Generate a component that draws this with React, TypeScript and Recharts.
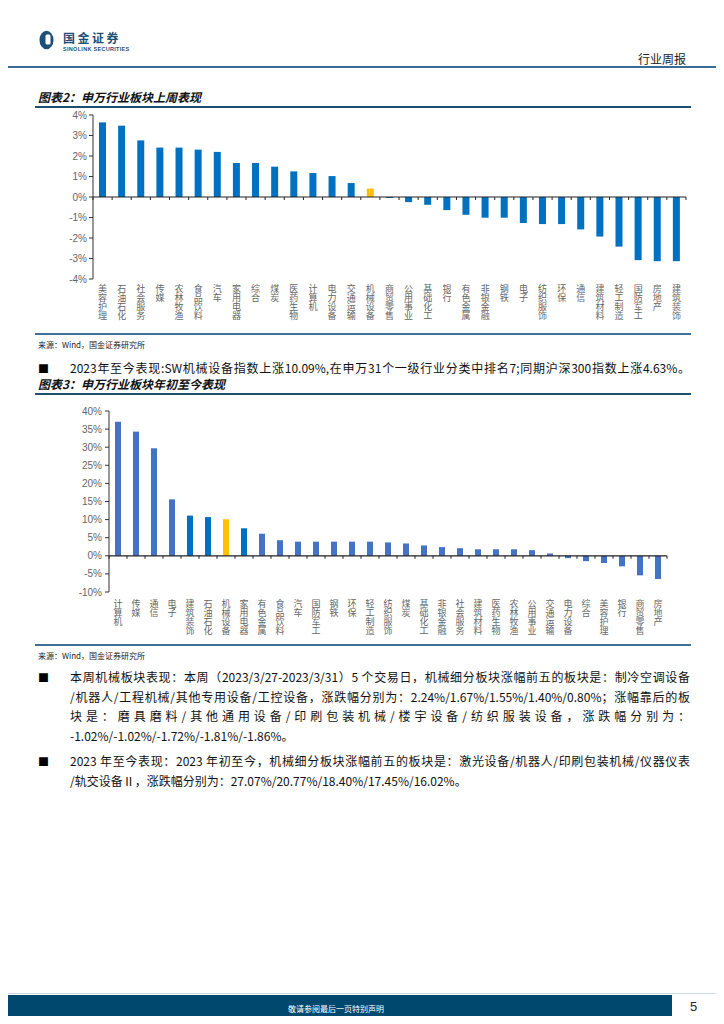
import React from "react";
import {BarChart, Bar, XAxis, YAxis, Cell, ReferenceLine} from "recharts";

// 图表2 上周表现 (%)
const weekNames = [
  "美容护理", "石油石化", "社会服务", "传媒", "农林牧渔", "食品饮料", "汽车", "家用电器",
  "综合", "煤炭", "医药生物", "计算机", "电力设备", "交通运输", "机械设备", "商贸零售",
  "公用事业", "基础化工", "银行", "有色金属", "非银金融", "钢铁", "电子", "纺织服饰",
  "环保", "通信", "建筑材料", "轻工制造", "国防军工", "房地产", "建筑装饰",
];
const weekValues = [
  3.64, 3.48, 2.76, 2.41, 2.41, 2.31, 2.2, 1.66,
  1.66, 1.48, 1.25, 1.17, 1.02, 0.68, 0.41, -0.05,
  -0.25, -0.38, -0.64, -0.87, -1.01, -1.01, -1.27, -1.32,
  -1.32, -1.58, -1.93, -2.42, -3.08, -3.13, -3.13,
];
const weekTicks = [-4, -3, -2, -1, 0, 1, 2, 3, 4];

// 图表3 年初至今表现 (%)
const ytdNames = [
  "计算机", "传媒", "通信", "电子", "建筑装饰", "石油石化", "机械设备", "家用电器",
  "有色金属", "食品饮料", "汽车", "国防军工", "钢铁", "环保", "轻工制造", "纺织服饰",
  "煤炭", "基础化工", "非银金融", "社会服务", "建筑材料", "医药生物", "农林牧渔", "公用事业",
  "交通运输", "电力设备", "综合", "美容护理", "银行", "商贸零售", "房地产",
];
const ytdValues = [
  37.0, 34.3, 29.7, 15.6, 11.1, 10.7, 10.09, 7.6,
  6.1, 4.3, 3.9, 3.9, 3.9, 3.9, 3.9, 3.7,
  3.4, 2.85, 2.4, 2.1, 1.8, 1.8, 1.8, 1.56,
  0.64, -0.64, -1.47, -2.0, -2.9, -5.4, -6.4,
];
const ytdTicks = [-10, -5, 0, 5, 10, 15, 20, 25, 30, 35, 40];
const ytdDarker = ["建筑装饰", "石油石化", "家用电器"];

const HIGHLIGHT = "机械设备";
const CJK = "'Noto Sans CJK SC', 'Noto Sans', sans-serif";
const AXIS_FONT = "'Liberation Sans', Arial, 'Noto Sans CJK SC', sans-serif";

const weekData = weekNames.map((name, i) => ({name, value: weekValues[i]}));
const ytdData = ytdNames.map((name, i) => ({name, value: ytdValues[i]}));

// category names stacked one character per line
function VerticalTick(props: any) {
  const {x, y, payload} = props;
  const chars = Array.from(String(payload.value));
  return (
    <text x={x} y={y} fill="#666" fontSize={9} textAnchor="middle" fontFamily={CJK}>
      {chars.map((c, i) => (
        <tspan key={i} x={x} dy={i === 0 ? 8.5 : 9.3}>
          {c}
        </tspan>
      ))}
    </text>
  );
}

// zero line with small marks at the category boundaries
function zeroLine(count: number) {
  return (props: any) => {
    const {x1, y1, x2} = props;
    const step = (x2 - x1) / count;
    const marks = [];
    for (let i = 0; i <= count; i++) {
      const x = x1 + step * i;
      marks.push(<line key={i} x1={x} x2={x} y1={y1} y2={y1 + 3} stroke="#222" strokeWidth={1} />);
    }
    return (
      <g>
        <line x1={x1} x2={x2} y1={y1} y2={y1} stroke="#222" strokeWidth={1.2} />
        {marks}
      </g>
    );
  };
}

function Title({top, text}: {top: number; text: string}) {
  return (
    <>
      <div
        style={{
          position: "absolute", left: 38, top, fontSize: 12, fontWeight: 700,
          fontStyle: "italic", color: "#111", lineHeight: "14px",
        }}
      >
        {text}
      </div>
      <div style={{position: "absolute", left: 35, top: top + 16, width: 656, height: 1.5, background: "#1F4E6E"}} />
    </>
  );
}

function Source({top}: {top: number}) {
  return (
    <>
      <div style={{position: "absolute", left: 35, top, width: 656, height: 1.5, background: "#3E7099"}} />
      <div style={{position: "absolute", left: 38, top: top + 7, fontSize: 8, color: "#222", lineHeight: "10px"}}>
        来源：Wind，国金证券研究所
      </div>
    </>
  );
}

function Lines({top, lines, fillLast}: {top: number; lines: string[]; fillLast?: boolean}) {
  return (
    <>
      <div style={{position: "absolute", left: 38, top: top + 1, fontSize: 11, lineHeight: "19.6px"}}>■</div>
      <div style={{position: "absolute", left: 70, top, width: 620, fontSize: 12, lineHeight: "19.6px", color: "#111"}}>
        {lines.map((l, i) => (
          <div
            key={i}
            style={{
              whiteSpace: "nowrap",
              textAlign: "justify",
              textAlignLast: i < lines.length - 1 || fillLast ? "justify" : "left",
            }}
          >
            {l}
          </div>
        ))}
      </div>
    </>
  );
}

export default function App() {
  return (
    <div
      style={{
        position: "relative", width: 724, height: 1024, margin: -8, background: "#fff",
        fontFamily: CJK, overflow: "hidden",
      }}
    >
      {/* header */}
      <svg style={{position: "absolute", left: 39, top: 30}} width={16} height={20}>
        <ellipse cx={7.5} cy={10} rx={7} ry={9.3} fill="#1D4F77" />
        <rect x={6.5} y={4.5} width={5} height={10} rx={1.5} fill="#fff" />
      </svg>
      <div style={{position: "absolute", left: 63, top: 31, fontSize: 12, fontWeight: 700, color: "#1D4F77", lineHeight: "13px", letterSpacing: 2.5}}>
        国金证券
      </div>
      <div style={{position: "absolute", left: 63, top: 45.5, fontSize: 5.5, fontWeight: 700, color: "#1D4F77", lineHeight: "6px", fontFamily: AXIS_FONT, letterSpacing: 0.3}}>
        SINOLINK SECURITIES
      </div>
      <div style={{position: "absolute", right: 38, top: 52, fontSize: 12, color: "#222", lineHeight: "14px"}}>行业周报</div>
      <div style={{position: "absolute", left: 0, top: 66, width: 724, height: 1.5, background: "#3A6C96"}} />

      <Title top={90} text="图表2：申万行业板块上周表现" />

      <div style={{position: "absolute", left: 30, top: 108}}>
        <BarChart width={670} height={226} data={weekData} margin={{top: 7, right: 14, bottom: 0, left: 0}}>
          <XAxis
            dataKey="name"
            interval={0}
            axisLine={false}
            tickLine={false}
            tickSize={0}
            tickMargin={4}
            height={55}
            tick={<VerticalTick />}
          />
          <YAxis
            domain={[-4, 4]}
            ticks={weekTicks}
            width={63}
            tickSize={4}
            tickMargin={2}
            tickFormatter={(v) => `${v}%`}
            axisLine={{stroke: "#333"}}
            tickLine={{stroke: "#333"}}
            tick={{fill: "#666", fontSize: 10, fontFamily: AXIS_FONT}}
          />
          <Bar dataKey="value" barSize={7} isAnimationActive={false}>
            {weekData.map((d) => (
              <Cell key={d.name} fill={d.name === HIGHLIGHT ? "#FFC000" : "#0070C0"} />
            ))}
          </Bar>
          <ReferenceLine y={0} shape={zeroLine(weekData.length)} />
        </BarChart>
      </div>

      <Source top={333} />
      <Lines
        top={358}
        fillLast
        lines={["2023年至今表现:SW机械设备指数上涨10.09%,在申万31个一级行业分类中排名7;同期沪深300指数上涨4.63%。"]}
      />

      <Title top={377} text="图表3：申万行业板块年初至今表现" />

      <div style={{position: "absolute", left: 30, top: 400}}>
        <BarChart width={660} height={250} data={ytdData} margin={{top: 11, right: 23, bottom: 0, left: 0}}>
          <XAxis
            dataKey="name"
            interval={0}
            axisLine={false}
            tickLine={false}
            tickSize={0}
            tickMargin={6}
            height={58}
            tick={<VerticalTick />}
          />
          <YAxis
            domain={[-10, 40]}
            ticks={ytdTicks}
            width={79}
            tickSize={4}
            tickMargin={3}
            tickFormatter={(v) => `${v}%`}
            axisLine={{stroke: "#333"}}
            tickLine={{stroke: "#333"}}
            tick={{fill: "#666", fontSize: 10, fontFamily: AXIS_FONT}}
          />
          <Bar dataKey="value" barSize={6} isAnimationActive={false}>
            {ytdData.map((d) => (
              <Cell
                key={d.name}
                fill={d.name === HIGHLIGHT ? "#FFC000" : ytdDarker.includes(d.name) ? "#0070C0" : "#4472C4"}
              />
            ))}
          </Bar>
          <ReferenceLine y={0} shape={zeroLine(ytdData.length)} />
        </BarChart>
      </div>

      <Source top={644} />
      <Lines
        top={667}
        lines={[
          "本周机械板块表现：本周（2023/3/27-2023/3/31）5 个交易日，机械细分板块涨幅前五的板块是：制冷空调设备",
          "/机器人/工程机械/其他专用设备/工控设备，涨跌幅分别为：2.24%/1.67%/1.55%/1.40%/0.80%；涨幅靠后的板",
          "块是：磨具磨料/其他通用设备/印刷包装机械/楼宇设备/纺织服装设备，涨跌幅分别为：",
          "-1.02%/-1.02%/-1.72%/-1.81%/-1.86%。",
        ]}
      />
      <Lines
        top={751}
        lines={[
          "2023 年至今表现：2023 年初至今，机械细分板块涨幅前五的板块是：激光设备/机器人/印刷包装机械/仪器仪表",
          "/轨交设备Ⅱ，涨跌幅分别为：27.07%/20.77%/18.40%/17.45%/16.02%。",
        ]}
      />

      {/* footer */}
      <div style={{position: "absolute", left: 0, top: 993, width: 724, height: 1, background: "#C9D9E6"}} />
      <div style={{position: "absolute", left: 0, top: 995, width: 672, height: 28, background: "#00486E"}} />
      <div style={{position: "absolute", left: 0, top: 995, width: 672, height: 28, lineHeight: "28px", textAlign: "center", fontSize: 8, color: "#fff"}}>
        敬请参阅最后一页特别声明
      </div>
      <div style={{position: "absolute", left: 690, top: 999, fontSize: 13, color: "#222", lineHeight: "16px", fontFamily: AXIS_FONT}}>5</div>
    </div>
  );
}
